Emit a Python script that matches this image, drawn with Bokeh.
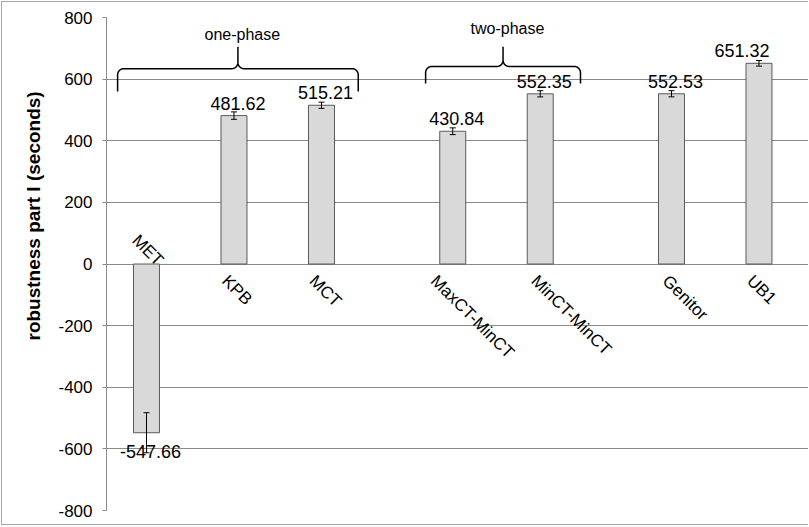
import math
from bokeh.plotting import figure
from bokeh.models import ColumnDataSource, Range1d, FixedTicker, Whisker, TeeHead, Title
from bokeh.core.properties import value
from bokeh.embed import file_html
from bokeh.resources import INLINE

# ---- data ----
categories = ["MET", "KPB", "MCT", "MaxCT-MinCT", "MinCT-MinCT", "Genitor", "UB1"]
groups = ["one-phase", "one-phase", "one-phase", "two-phase", "two-phase", "", ""]
values = [-547.66, 481.62, 515.21, 430.84, 552.35, 552.53, 651.32]
errors = [65, 12, 10, 11, 10, 10, 9]
value_labels = ["-547.66", "481.62", "515.21", "430.84", "552.35", "552.53", "651.32"]
y_ticks = [-800, -600, -400, -200, 0, 200, 400, 600, 800]
y_tick_labels = ["-800", "-600", "-400", "-200", "0", "200", "400", "600", "800"]
y_title = "robustness part I (seconds)"

FONT = "Liberation Sans"

# label nudges in pixels (style, as placed in the original chart)
value_dx = [4, 4, 4, 4, 4, 4, -17]
cat_dx = [0, -6, -6, -16, -3, -3, -6]

# category positions: unit spacing, extra half slot between groups
positions = []
pos = 0.0
prev = None
for i, g in enumerate(groups):
    if i > 0:
        pos += 1.0 + (0.5 if g != prev else 0.0)
    positions.append(pos)
    prev = g

src = ColumnDataSource(dict(
    x=positions, v=values, cat=categories, lab=value_labels,
    up=[v + e for v, e in zip(values, errors)],
    lo=[v - e for v, e in zip(values, errors)],
))

W, H = 807, 524
x_start = positions[0] - 0.457
p = figure(width=W, height=H,
           x_range=Range1d(x_start, x_start + (W - 104) / 87.5),
           y_range=Range1d(y_ticks[0], y_ticks[-1]),
           output_backend="svg", toolbar_location=None, x_axis_location=None,
           min_border_left=104, min_border_right=0, min_border_top=15, min_border_bottom=16)
p.styles = {"border-left": "1px solid #a8a8a8", "border-top": "1px solid #a8a8a8",
            "border-bottom": "1px solid #a8a8a8", "margin-left": "1px", "margin-top": "1px"}
p.outline_line_color = None
p.xgrid.visible = False
p.ygrid.ticker = FixedTicker(ticks=y_ticks)
p.ygrid.grid_line_color = "#8a8a8a"
p.ygrid.grid_line_width = 1

ax = p.yaxis[0]
ax.ticker = FixedTicker(ticks=y_ticks)
ax.major_label_overrides = {t: s for t, s in zip(y_ticks, y_tick_labels)}
ax.axis_line_color = "#8a8a8a"
ax.major_tick_line_color = "#8a8a8a"
ax.major_tick_out = 4
ax.major_tick_in = 0
ax.minor_tick_line_color = None
ax.major_label_text_font = FONT
ax.major_label_text_font_size = "17px"
ax.major_label_text_color = "black"
ax.major_label_standoff = 10

p.vbar(x="x", top="v", bottom=0, width=0.297, source=src,
       fill_color="#d9d9d9", line_color="#5a5a5a", line_width=1)

w = Whisker(source=src, base="x", upper="up", lower="lo", level="overlay",
            line_color="black", line_width=1,
            upper_head=TeeHead(size=6, line_color="black", line_width=1),
            lower_head=TeeHead(size=6, line_color="black", line_width=1))
p.add_layout(w)

for sign in (1, -1):
    idx = [i for i, v in enumerate(values) if (v >= 0) == (sign > 0)]
    s = ColumnDataSource(dict(x=[positions[i] for i in idx], v=[values[i] for i in idx],
                              lab=[value_labels[i] for i in idx], cat=[categories[i] for i in idx],
                              z=[0] * len(idx),
                              vdx=[value_dx[i] for i in idx],
                              cdx=[cat_dx[i] + (-3 if sign > 0 else 14) for i in idx]))
    # value labels
    p.text(x="x", y="v", text="lab", source=s, x_offset="vdx",
           y_offset=-6 if sign > 0 else 12,
           text_align="center", text_baseline="bottom" if sign > 0 else "top",
           text_font=value(FONT), text_font_size="18px", text_color="black")
    # category labels (rotated, at the zero line)
    p.text(x="x", y="z", text="cat", source=s, x_offset="cdx",
           y_offset=14 if sign > 0 else -1, angle=-math.pi / 4,
           text_align="left" if sign > 0 else "right", text_baseline="middle",
           text_font=value(FONT), text_font_size="17px", text_color="black")

# group braces
brace_layout = {"one-phase": (-0.33, 0.42, 560, 634, 705, 744),
                "two-phase": (-0.31, 0.46, 586, 641, 705, 764)}
xs_list, ys_list, gx, gy, gt = [], [], [], [], []
rx, ry = 0.07, 20.0
for gname, (dl, dr, y_end, y_bar, y_tip, y_txt) in brace_layout.items():
    idx = [i for i, g in enumerate(groups) if g == gname]
    x0 = positions[idx[0]] + dl
    x1 = positions[idx[-1]] + dr
    xc = (x0 + x1) / 2
    bx, by = [x0], [y_end]
    n = 8
    for k in range(n + 1):
        t = math.pi - (math.pi / 2) * k / n
        bx.append(x0 + rx + rx * math.cos(t)); by.append(y_bar - ry + ry * math.sin(t))
    for k in range(n + 1):
        t = -math.pi / 2 + (math.pi / 2) * k / n
        bx.append(xc - rx + rx * math.cos(t)); by.append(y_bar + ry + ry * math.sin(t))
    bx.append(xc); by.append(y_tip)
    for k in range(n + 1):
        t = math.pi + (math.pi / 2) * k / n
        bx.append(xc + rx + rx * math.cos(t)); by.append(y_bar + ry + ry * math.sin(t))
    for k in range(n + 1):
        t = math.pi / 2 - (math.pi / 2) * k / n
        bx.append(x1 - rx + rx * math.cos(t)); by.append(y_bar - ry + ry * math.sin(t))
    bx.append(x1); by.append(y_end)
    xs_list.append(bx); ys_list.append(by)
    gx.append(xc + 0.05); gy.append(y_txt); gt.append(gname)

p.multi_line(xs=xs_list, ys=ys_list, line_color="black", line_width=1.5)
p.text(x=gx, y=gy, text=gt, text_align="center", text_baseline="middle",
       text_font=value(FONT), text_font_size="16px", text_color="black")

# y-axis title, left of the tick labels, shifted upward as in the original
p.add_layout(Title(text=y_title, align="left", offset=170, standoff=24,
                   text_font=FONT, text_font_size="19px", text_font_style="bold",
                   text_color="black"), "left")

open("out.html", "w").write(file_html(p, INLINE))
